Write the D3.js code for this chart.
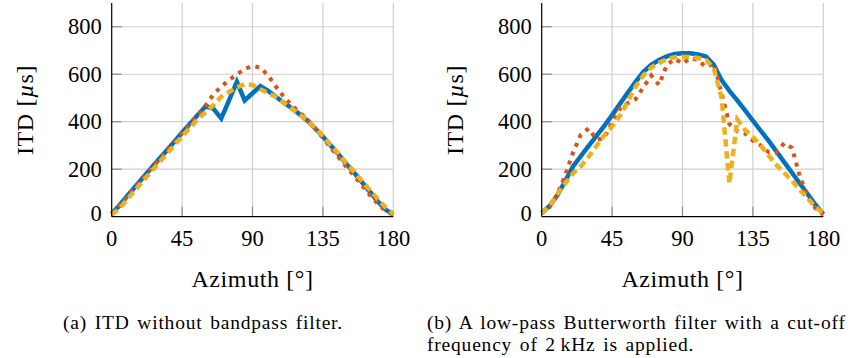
<!DOCTYPE html>
<html><head><meta charset="utf-8">
<script src="https://cdn.jsdelivr.net/npm/d3@7"></script>
<style>
body{margin:0;background:#fff;}
svg{display:block;}
</style></head>
<body>
<svg id="c" width="864" height="358" font-family="'Liberation Serif', 'DejaVu Serif', serif"></svg>
<script>
// ---- data ----
const azimuth = [0,5,10,15,20,25,30,35,40,45,50,55,60,65,70,75,80,85,90,95,100,105,110,115,120,125,130,135,140,145,150,155,160,165,170,175,180];
// (a) ITD without bandpass filter
const aBlue   = [12,48,88,126,165,203,241,278,316,355,392,428,465,455,414,490,568,490,520,550,530,505,480,458,432,405,372,338,300,262,222,185,145,105,65,30,10];
const aOrange = [10,45,86,124,163,201,239,276,314,352,390,428,468,515,548,575,600,622,635,628,595,548,505,470,440,410,372,332,290,250,210,172,132,92,55,25,8];
const aYellow = [8,35,74,112,150,188,226,263,300,338,375,410,440,470,505,525,545,558,555,537,520,505,480,455,430,405,375,340,302,265,225,190,150,112,75,40,12];
// (b) low-pass Butterworth 2 kHz
const bBlue   = [15,45,90,150,212,255,298,340,383,428,475,522,568,610,640,660,675,685,688,688,683,675,640,575,530,490,448,405,362,320,275,230,185,140,95,50,12];
const bOrange = [15,40,95,175,270,345,372,325,330,400,455,478,495,545,595,555,640,665,645,668,660,630,645,520,390,360,350,320,300,272,270,310,290,170,85,35,8];
const bYellow = [15,45,95,140,182,213,252,298,342,380,425,485,548,595,628,648,663,672,674,672,668,660,625,500,140,410,365,335,300,258,218,185,152,112,78,40,15];
const xTicks = [0,45,90,135,180];
const yTicks = [0,200,400,600,800];
const xLabel = "Azimuth [°]";
const captionA = ["(a) ITD without bandpass filter."];
const captionB = ["(b) A low-pass Butterworth filter with a cut-off","frequency of 2\u2009kHz is applied."];

const colors = {blue:"#0072BD", orange:"#D95319", yellow:"#EDB120"};
const FONT = "'Liberation Serif', 'DejaVu Serif', serif";
const svg = d3.select("#c");

function panel(x0, series, caption, capX, capAnchor){
  const g = svg.append("g").attr("font-family", FONT);
  const x = d3.scaleLinear().domain([0,180]).range([x0, x0+281.6]);
  const y = d3.scaleLinear().domain([0,900]).range([216.7, 3]);
  // grid
  g.append("g").selectAll("line").data(xTicks.slice(1)).join("line")
    .attr("x1",d=>x(d)).attr("x2",d=>x(d)).attr("y1",y(0)).attr("y2",y(900))
    .attr("stroke","#cfcfcf").attr("stroke-width",1.2);
  g.append("g").selectAll("line").data(yTicks.slice(1)).join("line")
    .attr("x1",x(0)).attr("x2",x(180)).attr("y1",d=>y(d)).attr("y2",d=>y(d))
    .attr("stroke","#cfcfcf").attr("stroke-width",1.2);
  // ticks (inside)
  g.append("g").selectAll("line").data(xTicks.slice(1,-1)).join("line")
    .attr("x1",d=>x(d)).attr("x2",d=>x(d)).attr("y1",y(0)).attr("y2",y(0)-10)
    .attr("stroke","#8a8a8a").attr("stroke-width",1.2);
  g.append("g").selectAll("line").data(yTicks.slice(1)).join("line")
    .attr("x1",x(0)).attr("x2",x(0)+10).attr("y1",d=>y(d)).attr("y2",d=>y(d))
    .attr("stroke","#8a8a8a").attr("stroke-width",1.2);
  // series
  const line = d3.line().x((d,i)=>x(azimuth[i])).y(d=>y(d));
  g.append("path").datum(series[0]).attr("d",line).attr("fill","none")
    .attr("stroke",colors.blue).attr("stroke-width",4.5).attr("stroke-linejoin","miter");
  g.append("path").datum(series[1]).attr("d",line).attr("fill","none")
    .attr("stroke",colors.orange).attr("stroke-width",4).attr("stroke-dasharray","4,5.5");
  g.append("path").datum(series[2]).attr("d",line).attr("fill","none")
    .attr("stroke",colors.yellow).attr("stroke-width",4.5).attr("stroke-dasharray","7.5,4.5");
  // axes lines
  g.append("line").attr("x1",x(0)).attr("x2",x(0)).attr("y1",y(0)).attr("y2",y(900))
    .attr("stroke","#000").attr("stroke-width",1.2);
  g.append("line").attr("x1",x(0)).attr("x2",x(180)).attr("y1",y(0)).attr("y2",y(0))
    .attr("stroke","#000").attr("stroke-width",1.2);
  // tick labels
  g.append("g").selectAll("text").data(xTicks).join("text")
    .attr("font-family",FONT)
    .attr("x",d=>x(d)).attr("y",y(0)+29).attr("text-anchor","middle")
    .attr("font-size",22.5).text(d=>d);
  g.append("g").selectAll("text").data(yTicks).join("text")
    .attr("font-family",FONT)
    .attr("x",x(0)-10).attr("y",d=>y(d)+(d===0?4:7.5)).attr("text-anchor","end")
    .attr("font-size",22.5).text(d=>d);
  // axis labels
  g.append("text").attr("font-family",FONT).attr("x",x(90)).attr("y",287).attr("text-anchor","middle")
    .attr("font-size",24).attr("letter-spacing",0.6).text(xLabel);
  const yl = g.append("text").attr("font-family",FONT).attr("transform",`translate(${x0-79},110) rotate(-90)`)
    .attr("text-anchor","middle").attr("font-size",24).attr("letter-spacing",0.6);
  yl.append("tspan").text("ITD [");
  yl.append("tspan").attr("font-style","italic").text("µ");
  yl.append("tspan").text("s]");
  // caption
  g.append("g").selectAll("text").data(caption).join("text")
    .attr("font-family",FONT).attr("text-anchor",capAnchor)
    .attr("x",capX).attr("y",(d,i)=>329+i*22).attr("font-size",19.5)
    .attr("letter-spacing",0.8).attr("word-spacing",2).text(d=>d);
}

panel(111.7, [aBlue,aOrange,aYellow], captionA, 203, "middle");
panel(541.7, [bBlue,bOrange,bYellow], captionB, 427, "start");
</script>
</body></html>
